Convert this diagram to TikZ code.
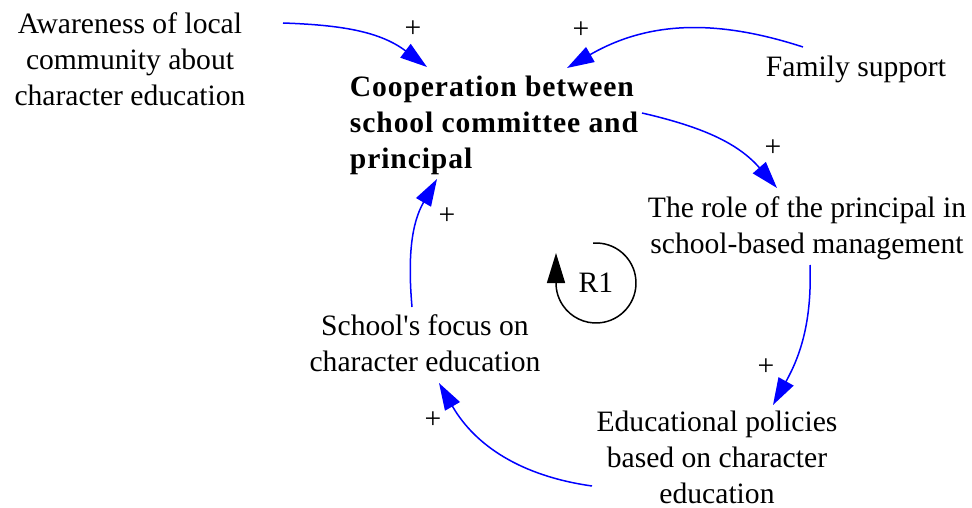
\documentclass[tikz,border=0pt]{standalone}
\usepackage{fontspec}
\setmainfont{Liberation Serif}
\usetikzlibrary{arrows.meta}

\begin{document}
\begin{tikzpicture}[x=1pt,y=1pt,
  var/.style={align=center,inner sep=0pt,font=\fontsize{29.6}{36}\selectfont},
  link/.style={blue,line width=1.5pt,-{Triangle[length=27pt,width=17pt]}},
  sign/.style={inner sep=0pt,font=\fontsize{29.6}{36}\selectfont}]
\useasboundingbox (0,0) rectangle (972,-508);
\begin{scope}[every node/.style={var}]
  \node (aw) at (130,-59) {Awareness of local\\community about\\character education};
  \node[align=left,font=\fontsize{29.6}{36}\selectfont\bfseries\addfontfeature{LetterSpace=3}] (coop) at (494,-125) {Cooperation between\\school committee and\\principal};
  \node (fam) at (856,-69) {Family support};
  \node (role) at (807,-228) {The role of the principal in\\school-based management};
  \node (edu) at (717,-457) {Educational policies\\based on character\\education};
  \node (sch) at (425,-343) {School\textquotesingle s focus on\\character education};
  \node (r1) at (596,-283) {R1};
\end{scope}
% polarity signs
\node[sign] (p1) at (413,-29) {+};
\node[sign] (p2) at (581,-30) {+};
\node[sign] (p3) at (773,-148) {+};
\node[sign] (p4) at (766,-367) {+};
\node[sign] (p5) at (433,-420) {+};
\node[sign] (p6) at (447,-216) {+};
% causal links
\draw[link] ([shift={(153,36)}]aw.center) to[out=-2,in=143] ([shift={(-67,58)}]coop.center);
\draw[link] ([shift={(-53,22)}]fam.center) to[out=162,in=30] ([shift={(73,57)}]coop.center);
\draw[link] ([shift={(148,12)}]coop.center) to[out=-13,in=131] ([shift={(-30,40)}]role.center);
\draw[link] ([shift={(3,-37)}]role.center) to[out=-88,in=61] ([shift={(56,52)}]edu.center);
\draw[link] ([shift={(-125,-29)}]edu.center) to[out=172,in=-60] ([shift={(14,-40)}]sch.center);
\draw[link] ([shift={(-13,36)}]sch.center) to[out=95,in=240] ([shift={(-57,-54)}]coop.center);
% loop marker
\draw[line width=1.5pt,-{Triangle[length=30pt,width=18pt]}] ([shift={(94:40)}]r1.center) arc[start angle=94,end angle=-180,radius=40] -- ++(0,30);
\end{tikzpicture}
\end{document}
